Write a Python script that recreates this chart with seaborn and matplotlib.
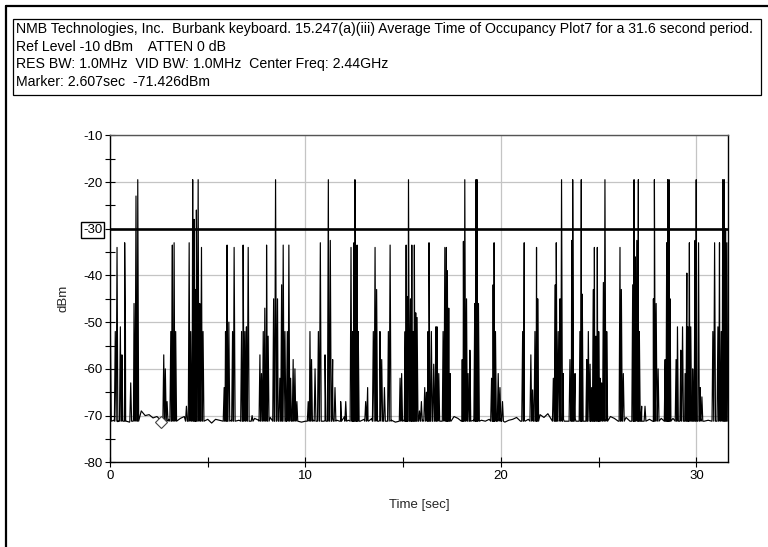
import numpy as np
import pandas as pd
import matplotlib
matplotlib.use("Agg")
import matplotlib.pyplot as plt
from matplotlib.patches import Rectangle
from matplotlib.lines import Line2D
from matplotlib.ticker import MultipleLocator
import seaborn as sns

# ---------------- data ----------------
header_lines = [
    "NMB Technologies, Inc.  Burbank keyboard. 15.247(a)(iii) Average Time of Occupancy Plot7 for a 31.6 second period.",
    "Ref Level -10 dBm    ATTEN 0 dB",
    "RES BW: 1.0MHz  VID BW: 1.0MHz  Center Freq: 2.44GHz",
    "Marker: 2.607sec  -71.426dBm",
]
x_label = "Time [sec]"
y_label = "dBm"
x_ticks = [0, 10, 20, 30]
y_ticks = [-80, -70, -60, -50, -40, -30, -20, -10]
limit_level = -30
marker_time = 2.607
marker_level = -71.426
sweep_time = 31.6
floor_base = -71.2

spike_times = [
    0.02, 0.27, 0.36, 0.53, 0.61, 0.75, 0.79, 1.06, 1.23, 1.33, 1.42,
    2.75, 2.83, 2.92, 3.11, 3.19, 3.28, 3.36, 3.91,
    4.05, 4.13, 4.23, 4.30, 4.37, 4.42, 4.51, 4.59, 4.68, 4.76,
    5.84, 5.91, 5.99, 6.08, 6.27, 6.35, 6.73, 6.81, 6.90, 6.98, 7.07, 7.27,
    7.67, 7.75, 7.84, 7.92, 8.01, 8.09, 8.37, 8.47, 8.57, 8.69, 8.78, 8.86, 8.95,
    9.07, 9.15, 9.24, 9.37, 9.46, 9.56,
    10.14, 10.23, 10.31, 10.49, 10.66, 10.76, 11.00, 11.17, 11.27, 11.39, 11.51, 11.80, 12.06,
    12.33, 12.41, 12.48, 12.53, 12.57, 12.64, 12.70, 13.08, 13.18, 13.47, 13.56, 13.64,
    13.81, 13.90, 14.04, 14.24, 14.33,
    14.84, 14.92, 15.10, 15.15, 15.20, 15.27, 15.37, 15.44, 15.51, 15.57, 15.64, 15.71, 15.83,
    15.93, 16.10, 16.19, 16.27, 16.32, 16.44, 16.56, 16.67, 16.73, 16.82,
    17.04, 17.13, 17.21, 17.26, 17.33, 17.40,
    18.02, 18.08, 18.15, 18.24, 18.32, 18.41, 18.66, 18.72, 18.78, 18.85,
    19.52, 19.60, 19.65, 19.72, 19.86, 19.95, 20.08,
    21.11, 21.19, 21.53, 21.62, 21.74, 21.82, 21.88,
    22.68, 22.78, 22.83, 22.93, 23.02, 23.10, 23.19, 23.53, 23.62, 23.67, 23.79,
    24.04, 24.11, 24.16, 24.39, 24.47, 24.56, 24.64, 24.73, 24.78, 24.86, 24.93,
    25.00, 25.07, 25.15, 25.24, 25.32, 25.41,
    26.09, 26.16, 26.26, 26.74, 26.81, 26.86, 26.95, 27.03, 27.08, 27.20, 27.37,
    27.80, 27.85, 27.94, 28.04, 28.40, 28.48, 28.53, 28.60, 28.65,
    28.96, 29.03, 29.20, 29.29, 29.42, 29.51, 29.56, 29.64, 29.71, 29.81, 29.93, 29.99,
    30.11, 30.19, 30.28, 30.84, 30.93, 31.10, 31.18, 31.27, 31.35, 31.42, 31.49, 31.56,
]
spike_peaks = [
    -52, -52, -34, -51, -57, -33, -52, -63, -46, -23, -19.5,
    -57, -60, -67, -52, -33.5, -33, -52, -68,
    -33, -52, -19.5, -28, -43, -26, -19.5, -46, -34, -52,
    -64, -52, -33.5, -50, -52, -34, -52, -33.5, -52, -51, -34, -70,
    -57, -61, -52, -47, -33.5, -53, -45, -19.5, -45, -62, -42, -33.5, -52,
    -52, -33.5, -62, -58, -60, -67,
    -67, -52, -58, -60, -52, -33, -57, -19.5, -32.5, -58, -64, -67, -67,
    -34, -52, -33, -19.5, -42, -33.5, -52, -67, -64, -52, -34, -43,
    -52, -58, -64, -52, -33.5,
    -62, -61, -52, -33.5, -44.5, -19.5, -45, -33.5, -52, -33.5, -48, -49, -69,
    -67, -64, -65, -52, -33, -52, -59, -51, -51, -61,
    -52, -34, -34, -39, -47, -61,
    -58, -32.7, -19.5, -45, -61, -56, -46, -19.5, -19.5, -46,
    -62, -42, -33, -52, -61, -64, -67,
    -52, -33, -57, -64.5, -52, -34, -45,
    -62, -42, -33, -52, -45, -19.5, -61, -58, -32.5, -19.5, -61,
    -52, -19.5, -44, -58, -52, -59, -64, -43, -34, -53, -34,
    -52, -62, -63, -41.5, -19.5, -52,
    -34, -43, -61, -42, -19.5, -36, -32.5, -19.5, -52, -68, -68,
    -45, -19.5, -46, -60, -58, -33, -19.5, -19.5, -45,
    -58, -51, -56, -51, -61, -39.5, -51, -33, -51, -60, -32.5, -19.5,
    -33, -64, -66, -52, -33, -51, -33, -52, -19.5, -19.5, -30, -33,
]
floor_levels = [
    -71.2, -71.0, -71.3, -71.0, -71.2, -71.4, -71.0, -71.2, -69.0, -70.0,
    -69.8, -70.5, -70.2, -71.0, -71.2, -70.8, -71.0, -70.8, -70.6, -70.2,
    -71.2, -71.0, -71.2, -71.0, -70.2, -70.8, -71.6, -70.8, -71.0, -70.0,
    -71.2, -71.0, -71.2, -71.0, -71.2, -70.8, -71.2, -70.6, -71.0, -71.2,
    -71.0, -70.4, -71.2, -71.0, -71.2, -70.8, -71.0, -71.2, -70.6, -71.4,
    -71.2, -70.8, -71.0, -71.2, -70.4, -71.0, -71.2, -70.6, -71.0, -71.2,
    -70.2, -71.0, -71.2, -71.0, -71.2, -70.8, -71.0, -70.6, -71.2, -71.0,
    -70.6, -71.2, -71.0, -71.4, -71.2, -71.0, -71.2, -71.0, -71.2, -70.8,
    -71.0, -70.6, -71.2, -70.4, -71.0, -71.2, -70.8, -71.0, -70.2, -70.6,
    -71.2, -71.0, -71.2, -71.0, -71.2, -71.0, -71.2, -70.8, -71.2, -71.0,
    -70.6, -71.4, -71.0, -70.8, -70.4, -71.2, -71.0, -70.8, -71.0, -71.2,
    -69.8, -70.4, -69.6, -71.0, -71.2, -71.0, -70.8, -71.2, -71.0, -70.6,
    -71.2, -71.0, -71.2, -71.0, -70.8, -71.2, -71.0, -70.8, -70.2, -70.6,
    -71.2, -71.0, -70.4, -71.2, -71.0, -70.8, -71.2, -70.4, -70.8, -71.2,
    -71.0, -70.6, -71.2, -71.0, -70.6, -71.2, -71.0, -71.2, -71.0, -71.2,
    -71.0, -70.4, -71.2, -71.0, -70.8, -71.2, -71.0, -71.2, -71.0,
]

# ---------------- build trace ----------------
floor_times = np.linspace(0, sweep_time, len(floor_levels))
half_w = 0.045
t_all = list(floor_times)
v_all = list(floor_levels)
for t, p in zip(spike_times, spike_peaks):
    t_all += [t - half_w, t, t + half_w]
    v_all += [floor_base, p, floor_base]
order = np.argsort(t_all, kind="stable")
df = pd.DataFrame({"t": np.array(t_all)[order], "v": np.array(v_all)[order]})

# ---------------- figure ----------------
sns.set_theme(style="white")
plt.rcParams["font.family"] = ["Liberation Sans", "DejaVu Sans"]

fig = plt.figure(figsize=(7.68, 5.47), dpi=100)
W, H = 768, 547
ax = fig.add_axes([110 / W, 1 - 462.3 / H, (727.7 - 110) / W, (462.3 - 135.3) / H])

sns.lineplot(data=df, x="t", y="v", ax=ax, sort=False, estimator=None,
             color="black", linewidth=0.85, zorder=3)
ax.axhline(limit_level, color="black", linewidth=1.9, zorder=4)
ax.plot([marker_time], [marker_level], marker="D", markersize=6.5,
        markerfacecolor="white", markeredgecolor="#444444", markeredgewidth=0.8,
        linestyle="none", zorder=5)

ax.set_xlim(0, sweep_time)
ax.set_ylim(-80, -10)
ax.set_xticks(x_ticks)
ax.set_yticks(y_ticks)
ax.xaxis.set_minor_locator(MultipleLocator(5))
ax.yaxis.set_minor_locator(MultipleLocator(5))
ax.grid(True, which="major", color="#c4c4c4", linewidth=0.9, zorder=0)
ax.set_axisbelow(True)
ax.tick_params(which="both", direction="inout", length=7, width=0.8,
               colors="black", labelsize=9.5, left=True, bottom=True)
ax.tick_params(axis="x", pad=2)
ax.tick_params(axis="y", pad=2)
ax.set_yticklabels([str(v) for v in y_ticks])
for v, lbl in zip(y_ticks, ax.get_yticklabels()):
    if v == limit_level:
        lbl.set_bbox(dict(facecolor="white", edgecolor="black", linewidth=1.0, pad=1.5))

for side in ["left", "right", "bottom"]:
    ax.spines[side].set_color("black")
    ax.spines[side].set_linewidth(1.0)
ax.spines["top"].set_color("#555555")
ax.spines["top"].set_linewidth(1.0)

ax.set_xlabel(x_label, fontsize=9.5, labelpad=12)
ax.set_ylabel(y_label, fontsize=9.5, labelpad=9.5)

# header box
fig.patches.append(Rectangle((13 / W, 1 - 95 / H), (761 - 13) / W, (95 - 19) / H,
                             transform=fig.transFigure, facecolor="white",
                             edgecolor="black", linewidth=0.9))
for i, line in enumerate(header_lines):
    fig.text(16 / W, 1 - (29 + i * 17.7) / H, line, fontsize=10.15,
             ha="left", va="center", color="black")

# outer frame (left and top edges)
fig.lines.append(Line2D([5.5 / W, 5.5 / W], [0, 1 - 5.5 / H], transform=fig.transFigure,
                        color="black", linewidth=1.6))
fig.lines.append(Line2D([5.5 / W, 1], [1 - 5.5 / H, 1 - 5.5 / H], transform=fig.transFigure,
                        color="black", linewidth=1.6))

fig.savefig("out.png", dpi=100)
